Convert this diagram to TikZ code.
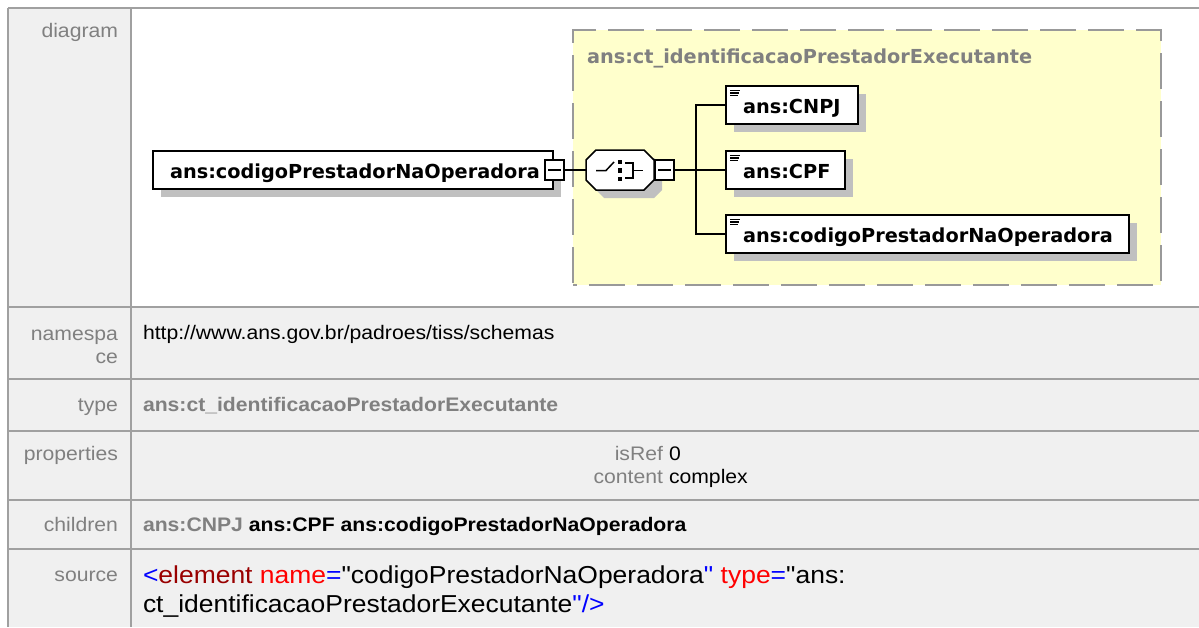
\documentclass[tikz,border=0pt]{standalone}
\usepackage{fontspec}
\setmainfont{Liberation Sans}
\newfontfamily\bodyf{Liberation Sans}[FakeStretch=1.08]
\newfontfamily\diagf{DejaVu Sans}
\usetikzlibrary{calc,shadows}
\definecolor{lblgray}{HTML}{808080}
\definecolor{tline}{HTML}{A0A0A0}
\definecolor{cellbg}{HTML}{F0F0F0}
\definecolor{grpfill}{HTML}{FFFFCC}
\definecolor{grpline}{HTML}{999999}
\definecolor{shadowc}{HTML}{C0C0C0}
\definecolor{tagred}{HTML}{990000}
\definecolor{attrred}{HTML}{FF0000}
\definecolor{markblue}{HTML}{0000FF}
\begin{document}
\begin{tikzpicture}[x=1pt,y=-1pt,
  every node/.style={inner sep=0pt, outer sep=0pt},
  lbl/.style={anchor=base east, text=lblgray, font=\bodyf\fontsize{19.6}{23}\selectfont},
  val/.style={anchor=base west, text=black, font=\bodyf\fontsize{19.6}{23}\selectfont},
  bval/.style={anchor=base west, text=black, font=\bodyf\bfseries\fontsize{19.6}{23}\selectfont},
  src/.style={anchor=base west, text=black, font=\bodyf\fontsize{24.5}{28}\selectfont},
  tableline/.style={draw=tline, line width=2pt},
  elbox/.style={draw=black, line width=1.5pt, fill=white, anchor=north west, minimum height=38pt,
    general shadow={fill=shadowc, shadow xshift=8pt, shadow yshift=-8pt}},
  eltext/.style={anchor=base west, text=black, font=\diagf\bfseries\fontsize{19.3}{22}\selectfont},
  minusbox/.style={draw=black, line width=1.5pt, fill=white, minimum width=19pt, minimum height=20pt},
  conn/.style={draw=black, line width=1.5pt},
  iconline/.style={draw=black, line width=1.1pt},
]
\useasboundingbox (0,0) rectangle (1199,627);
\fill[white] (0,0) rectangle (1199,627);
% table background
\fill[cellbg] (8,8) rectangle (1199,627);
\fill[white] (131,8) rectangle (1199,307);
\draw[tableline] (8,8) -- (1199,8);
\draw[tableline] (8,8) -- (8,627);
\draw[tableline] (131,8) -- (131,627);
\foreach \yy in {307,379,431,500,549} {\draw[tableline] (8,\yy) -- (1199,\yy);}

% group box
\node[draw=grpline, fill=grpfill, line width=2pt, dash pattern=on 36pt off 12pt, dash phase=32pt,
  anchor=north west, minimum width=588pt, minimum height=255pt] (grp) at (573,30) {};
\node[eltext, text=lblgray] (grpt) at (587,63) {ans:ct\_identificacaoPrestadorExecutante};

% main element
\node[elbox, minimum width=400pt] (main) at (153,151) {};
\node[eltext] (maint) at (170,178) {ans:codigoPrestadorNaOperadora};
\node[minusbox] (mm) at (554.5,170) {};
\draw[conn] ($(mm.west)+(3,0)$) -- ($(mm.east)+(-3,0)$);

% choice octagon
\node[minimum width=68pt, minimum height=40pt] (oct) at (620,170) {};
\fill[shadowc] (604,158) -- (654,158) -- (662,166) -- (662,190) -- (654,198) -- (604,198) -- (594,188) -- (594,168) -- cycle;
\filldraw[fill=white, draw=black, line width=1.5pt] (596,150) -- (644,150) -- (654,160) -- (654,180) -- (644,190) -- (596,190) -- (586,180) -- (586,160) -- cycle;
\draw[conn] (596,170.5) -- (606,170.5) -- (614,162);
\fill[black] (617.5,159.5) rectangle (622,164);
\fill[black] (617.5,168) rectangle (622,172.5);
\fill[black] (617.5,176.5) rectangle (622,181);
\draw[conn] (625,163) -- (633,163) -- (633,178) -- (625,178);
\draw[conn] (633,170.5) -- (643,170.5);
\node[minusbox] (om) at (664.5,170) {};
\draw[conn] ($(om.west)+(3,0)$) -- ($(om.east)+(-3,0)$);
\draw[conn] (mm.east) -- (oct.west);

% children
\node[elbox, minimum width=132pt] (c1) at (726,86) {};
\node[eltext] (c1t) at (743,113) {ans:CNPJ};
\node[elbox, minimum width=119pt] (c2) at (726,151) {};
\node[eltext] (c2t) at (743,178) {ans:CPF};
\node[elbox, minimum width=403pt] (c3) at (726,215) {};
\node[eltext] (c3t) at (743,242) {ans:codigoPrestadorNaOperadora};
\foreach \b in {c1,c2,c3} {
  \draw[iconline] ($(\b.north west)+(4,4.5)$) -- ++(10,0);
  \draw[iconline] ($(\b.north west)+(4,7)$) -- ++(9,0);
  \draw[iconline] ($(\b.north west)+(4,9.5)$) -- ++(8,0);
}
\coordinate (fork) at (696,170);
\draw[conn] (om.east) -- (fork);
\draw[conn] (fork) |- (c1.west);
\draw[conn] (fork) -- (c2.west);
\draw[conn] (fork) |- (c3.west);

% labels
\node[lbl] (l1) at (118,37) {diagram};
\node[lbl] (l2a) at (118,340) {namespa};
\node[lbl] (l2b) at (118,363) {ce};
\node[lbl] (l3) at (118,411) {type};
\node[lbl] (l4) at (118,460) {properties};
\node[lbl] (l5) at (118,531) {children};
\node[lbl] (l6) at (118,581) {source};

% values
\node[val] (v2) at (143,339) {http://www.ans.gov.br/padroes/tiss/schemas};
\node[bval, text=lblgray] (v3) at (143,411) {ans:ct\_identificacaoPrestadorExecutante};
\node[lbl] (p1k) at (663,460) {isRef};
\node[val] (p1v) at (669,460) {0};
\node[lbl] (p2k) at (663,483) {content};
\node[val] (p2v) at (669,483) {complex};
\node[bval] (v5) at (143,531) {\textcolor{lblgray}{ans:CNPJ} ans:CPF ans:codigoPrestadorNaOperadora};
\node[src] (s1) at (143,583) {\textcolor{markblue}{<}\textcolor{tagred}{element} \textcolor{attrred}{name}\textcolor{markblue}{=}"codigoPrestadorNaOperadora\textcolor{markblue}{"} \textcolor{attrred}{type}\textcolor{markblue}{=}"ans:};
\node[src] (s2) at (143,612) {ct\_identificacaoPrestadorExecutante\textcolor{markblue}{"/>}};
\end{tikzpicture}
\end{document}
